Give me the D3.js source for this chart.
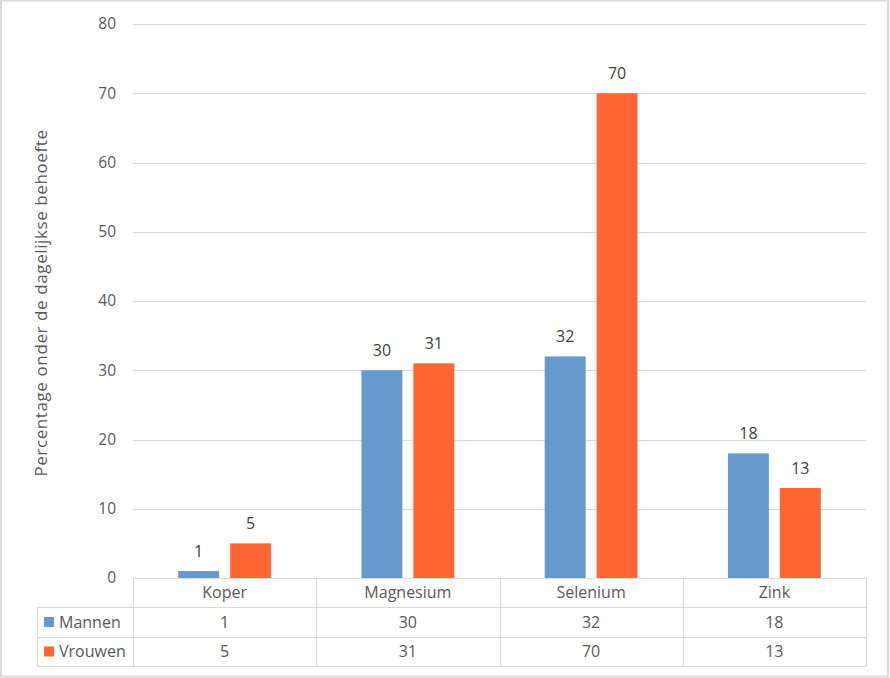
<!DOCTYPE html>
<html><head><meta charset="utf-8">
<script src="https://cdn.jsdelivr.net/npm/d3@7"></script>
<style>body{margin:0;background:#fff}svg{display:block}text{font-family:"Open Sans",Lato,sans-serif;}</style>
</head><body><svg id="c" width="890" height="678"></svg>
<script>
const categories = ["Koper","Magnesium","Selenium","Zink"];
const seriesNames = ["Mannen","Vrouwen"];
const mannen = [1,30,32,18];
const vrouwen = [5,31,70,13];
const yTicks = [0,10,20,30,40,50,60,70,80];
const colors = ["#6699cc","#ff6633"];

const svg = d3.select("#c");
const pLeft=133,pRight=866,pTop=24,pBottom=578;
const rowH=[578,607,637,666];
const gridC="#d9d9d9", textC="#595959";
const FONT="'Open Sans',Lato,sans-serif";

svg.append("rect").attr("x",1).attr("y",0.5).attr("width",887).attr("height",676)
  .attr("fill","#fff").attr("stroke","#d9d9d9").attr("stroke-width",2);

const x = d3.scaleBand().domain(categories).range([pLeft,pRight]);
const y = d3.scaleLinear().domain([0,80]).range([pBottom,pTop]);
const xs = d3.scaleBand().domain(seriesNames).range([0,x.bandwidth()]).paddingInner(0.2115).paddingOuter(0.87);

// gridlines
svg.append("g").selectAll("line").data(yTicks.slice(1)).join("line")
  .attr("x1",pLeft).attr("x2",pRight).attr("y1",d=>Math.round(y(d))+0.5).attr("y2",d=>Math.round(y(d))+0.5)
  .attr("stroke",gridC).attr("stroke-width",1);

// y axis labels
const yAxis = d3.axisLeft(y).tickValues(yTicks).tickSize(0).tickPadding(17);
const ga = svg.append("g").attr("transform",`translate(${pLeft},0)`).call(yAxis);
ga.select(".domain").remove();
ga.selectAll("text").attr("font-size",15.5).attr("fill",textC).style("font-family",FONT);

// y title
svg.append("text").attr("transform","translate(47,303) rotate(-90)").attr("text-anchor","middle")
  .attr("font-size",17).attr("letter-spacing",0.6).attr("fill",textC).text("Percentage onder de dagelijkse behoefte");

// bars
const data = [mannen,vrouwen];
data.forEach((vals,si)=>{
  const g = svg.append("g");
  g.selectAll("rect").data(vals).join("rect")
    .attr("x",(d,i)=>x(categories[i])+xs(seriesNames[si]))
    .attr("width",xs.bandwidth())
    .attr("y",d=>y(d)).attr("height",d=>y(0)-y(d)).attr("fill",colors[si]);
  g.selectAll("text").data(vals).join("text")
    .attr("x",(d,i)=>x(categories[i])+xs(seriesNames[si])+xs.bandwidth()/2)
    .attr("y",d=>y(d)-14).attr("text-anchor","middle").attr("font-size",16).attr("fill","#404040").text(d=>d);
});

// table
const tg = svg.append("g");
function hline(x1,x2,yy){tg.append("line").attr("x1",x1).attr("x2",x2).attr("y1",yy+0.5).attr("y2",yy+0.5).attr("stroke",gridC);}
function vline(xx,y1,y2){tg.append("line").attr("x1",xx+0.5).attr("x2",xx+0.5).attr("y1",y1).attr("y2",y2).attr("stroke",gridC);}
hline(pLeft,pRight,578);
hline(37,pRight,607);hline(37,pRight,637);hline(37,pRight,666);
vline(37,607,666);
[...categories.map(c=>x(c)),pRight].forEach(xx=>vline(Math.round(xx),578,666));

categories.forEach(c=>{
  tg.append("text").attr("x",x(c)+x.bandwidth()/2).attr("y",598).attr("text-anchor","middle")
    .attr("font-size",16).attr("fill",textC).text(c);
});
data.forEach((vals,si)=>{
  const cy = (rowH[si+1]+rowH[si+2])/2;
  tg.append("rect").attr("x",44).attr("y",cy-5).attr("width",10).attr("height",10).attr("fill",colors[si]);
  tg.append("text").attr("x",59).attr("y",cy+5.5).attr("font-size",16).attr("fill",textC).text(seriesNames[si]);
  vals.forEach((v,i)=>{
    tg.append("text").attr("x",x(categories[i])+x.bandwidth()/2).attr("y",cy+5.5).attr("text-anchor","middle")
      .attr("font-size",16).attr("fill",textC).text(v);
  });
});
</script></body></html>
